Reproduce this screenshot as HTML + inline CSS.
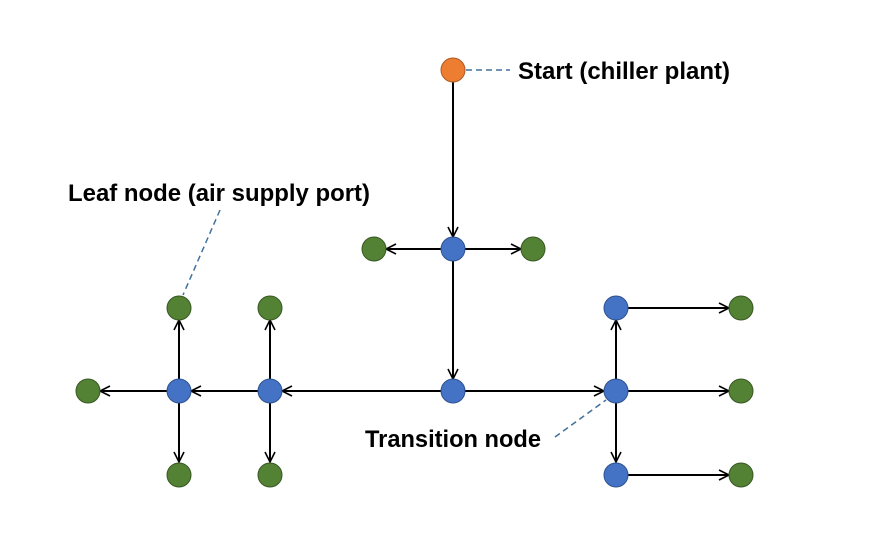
<!DOCTYPE html>
<html><head><meta charset="utf-8"><style>
html,body{margin:0;padding:0;background:#fff;}
text{font-family:"Liberation Sans",Arial,sans-serif;font-weight:bold;font-size:24px;fill:#000;}
</style></head><body>
<svg width="876" height="553" viewBox="0 0 876 553" xmlns="http://www.w3.org/2000/svg">
<defs>
<marker id="a" viewBox="0 0 12 12" refX="11" refY="6" markerWidth="12" markerHeight="12" markerUnits="userSpaceOnUse" orient="auto">
<path d="M1,1 L11,6 L1,11" fill="none" stroke="#000" stroke-width="1.6"/>
</marker>
</defs>
<g stroke="#000" stroke-width="2" marker-end="url(#a)">
<line x1="453" y1="82" x2="453" y2="237"/>
<line x1="441" y1="249" x2="386" y2="249"/>
<line x1="465" y1="249" x2="521" y2="249"/>
<line x1="453" y1="261" x2="453" y2="379"/>
<line x1="465" y1="391" x2="604" y2="391"/>
<line x1="441" y1="391" x2="282" y2="391"/>
<line x1="258" y1="391" x2="191" y2="391"/>
<line x1="167" y1="391" x2="100" y2="391"/>
<line x1="179" y1="379" x2="179" y2="320"/>
<line x1="179" y1="403" x2="179" y2="462"/>
<line x1="270" y1="379" x2="270" y2="320"/>
<line x1="270" y1="403" x2="270" y2="462"/>
<line x1="616" y1="379" x2="616" y2="320"/>
<line x1="616" y1="403" x2="616" y2="462"/>
<line x1="628" y1="308" x2="729" y2="308"/>
<line x1="628" y1="391" x2="729" y2="391"/>
<line x1="628" y1="475" x2="729" y2="475"/>
</g>
<g stroke="#41719C" stroke-width="1.5" stroke-dasharray="6,4" fill="none">
<line x1="466" y1="70" x2="510" y2="70"/>
<line x1="220" y1="210" x2="183" y2="295"/>
<line x1="555" y1="437" x2="606" y2="400"/>
</g>
<g stroke-width="1">
<circle cx="453" cy="70" r="12" fill="#ED7D31" stroke="#AE5A21"/>
<g fill="#4472C4" stroke="#2F528F">
<circle cx="453" cy="249" r="12"/><circle cx="453" cy="391" r="12"/>
<circle cx="616" cy="391" r="12"/><circle cx="616" cy="308" r="12"/><circle cx="616" cy="475" r="12"/>
<circle cx="270" cy="391" r="12"/><circle cx="179" cy="391" r="12"/>
</g>
<g fill="#548235" stroke="#385723">
<circle cx="374" cy="249" r="12"/><circle cx="533" cy="249" r="12"/>
<circle cx="179" cy="308" r="12"/><circle cx="270" cy="308" r="12"/>
<circle cx="88" cy="391" r="12"/><circle cx="179" cy="475" r="12"/><circle cx="270" cy="475" r="12"/>
<circle cx="741" cy="308" r="12"/><circle cx="741" cy="391" r="12"/><circle cx="741" cy="475" r="12"/>
</g>
</g>
<text x="518" y="79" textLength="212" lengthAdjust="spacingAndGlyphs">Start (chiller plant)</text>
<text x="68" y="201" textLength="302" lengthAdjust="spacingAndGlyphs">Leaf node (air supply port)</text>
<text x="365" y="447" textLength="176" lengthAdjust="spacingAndGlyphs">Transition node</text>
</svg>
</body></html>
